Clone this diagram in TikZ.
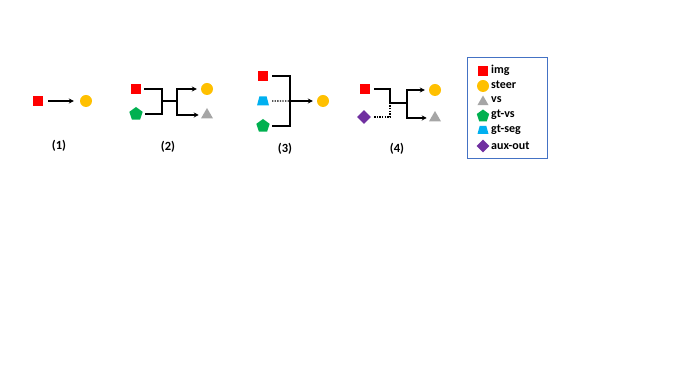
\documentclass[tikz,border=0pt]{standalone}
\usepackage{fontspec}
\setmainfont{Carlito}
\usetikzlibrary{shapes.geometric,arrows.meta}
\definecolor{cred}{RGB}{255,0,0}
\definecolor{cgold}{RGB}{255,192,0}
\definecolor{cgray}{RGB}{166,166,166}
\definecolor{cgreen}{RGB}{0,176,80}
\definecolor{ccyan}{RGB}{0,176,240}
\definecolor{cpurple}{RGB}{112,48,160}
\definecolor{cbox}{RGB}{68,114,196}
\newcommand{\tinybox}{\phantom{\rule{1pt}{1pt}}}
\begin{document}
\begin{tikzpicture}[x=1pt,y=1pt,
 sq/.style={rectangle,fill=cred,minimum size=10pt,inner sep=0},
 ci/.style={circle,fill=cgold,minimum size=12pt,inner sep=0},
 tri/.style={regular polygon,regular polygon sides=3,fill=cgray,minimum size=14pt,inner sep=0},
 pent/.style={regular polygon,regular polygon sides=5,fill=cgreen,minimum size=14pt,inner sep=0},
 trap/.style={trapezium,trapezium left angle=72,trapezium right angle=72,trapezium stretches=true,fill=ccyan,minimum width=12pt,minimum height=9pt,inner sep=0.5pt},
 dia/.style={diamond,fill=cpurple,minimum size=14pt,inner sep=0},
 ln/.style={line width=1.3pt},
 dln/.style={line width=1.3pt,dash pattern=on 1.3pt off 1.3pt},
 arr/.style={line width=1.3pt,-{Stealth[length=5pt,width=5pt]}},
 lab/.style={font=\bfseries\fontsize{12.5}{14}\selectfont,inner sep=0},
 leg/.style={font=\bfseries\fontsize{12}{14}\selectfont,anchor=west,inner sep=0}
]
\useasboundingbox (0,0) rectangle (677,379);
% (1)
\node[sq] (a1) at (38,278) {};
\node[ci] (c1) at (86,278) {};
\draw[arr] ([xshift=5pt]a1.east) -- ([xshift=-6pt]c1.west);
\node[lab] (l1) at (59,233) {(1)};
% (2)
\node[sq] (a2) at (136,290) {};
\node[pent] (p2) at (136,265) {};
\node[ci] (c2) at (207,290) {};
\node[tri] (t2) at (207,264) {};
\coordinate (j2) at (162,278);
\coordinate (k2) at (177,278);
\draw[ln] ([xshift=3pt]a2.east) -| (j2) |- ([xshift=3pt]p2.east);
\draw[ln] (j2) -- (k2);
\draw[arr] (k2) |- ([xshift=-4pt]c2.west);
\draw[arr] (k2) |- ([xshift=-4pt]t2.west);
\node[lab] (l2) at (168,232) {(2)};
% (3)
\node[sq] (a3) at (263,303) {};
\node[trap] (q3) at (263,278) {\tinybox};
\node[pent] (p3) at (263,253) {};
\node[ci] (c3) at (323,278) {};
\coordinate (j3) at (290,278);
\draw[ln] ([xshift=4pt]a3.east) -| (j3) |- ([xshift=3pt]p3.east);
\draw[dln] ([xshift=4pt]q3.east) -- (j3);
\draw[arr] (j3) -- ([xshift=-4pt]c3.west);
\node[lab] (l3) at (285,230) {(3)};
% (4)
\node[sq] (a4) at (365,290) {};
\node[dia] (d4) at (364,262) {};
\node[ci] (c4) at (435,289) {};
\node[tri] (t4) at (435,261) {};
\coordinate (j4) at (390,276);
\coordinate (k4) at (407,276);
\draw[ln] ([xshift=4pt]a4.east) -| (j4);
\draw[dln] ([xshift=3pt]d4.east) -| (j4);
\draw[ln] (j4) -- (k4);
\draw[arr] (k4) |- ([xshift=-4pt]c4.west);
\draw[arr] (k4) |- ([xshift=-4pt]t4.west);
\node[lab] (l4) at (397,230) {(4)};
% legend
\node[draw=cbox,line width=0.8pt,minimum width=80pt,minimum height=101pt,inner sep=0] (box) at (507,271.5) {};
\node[sq] (ls1) at (483,308) {};
\node[leg] (lt1) at (491,309) {img};
\node[ci] (ls2) at (483,293) {};
\node[leg] (lt2) at (491,294) {steer};
\node[tri,minimum size=13pt] (ls3) at (483,277) {};
\node[leg] (lt3) at (491,279) {vs};
\node[pent,minimum size=13pt] (ls4) at (483,263) {};
\node[leg] (lt4) at (491,264) {gt-vs};
\node[trap,minimum width=11pt,minimum height=8pt] (ls5) at (483,249) {\tinybox};
\node[leg] (lt5) at (491,249) {gt-seg};
\node[dia,minimum size=13pt] (ls6) at (483,233) {};
\node[leg] (lt6) at (491,233) {aux-out};
\end{tikzpicture}
\end{document}
